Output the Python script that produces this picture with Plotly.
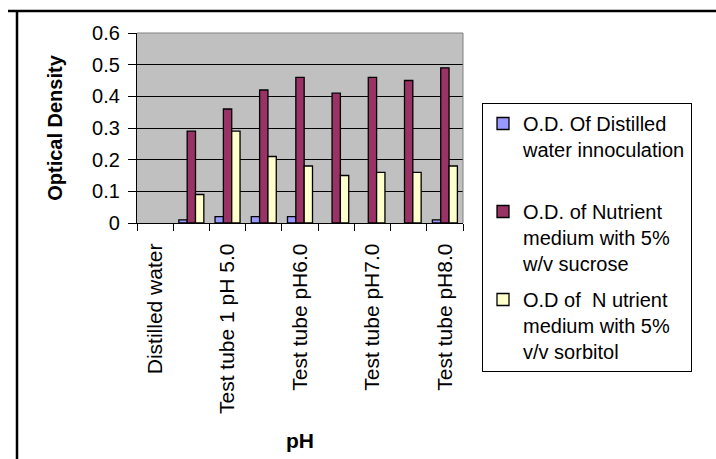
import plotly.graph_objects as go

# Categories along the x axis (only every second one carries a printed label)
categories = [
    "Distilled water",
    "Test tube pH4.0",
    "Test tube 1 pH 5.0",
    "Test tube 2 pH 5.0",
    "Test tube pH6.0",
    "Test tube 2 pH6.0",
    "Test tube pH7.0",
    "Test tube 2 pH7.0",
    "Test tube pH8.0",
]

# Optical density readings per series
od_distilled = [0.0, 0.01, 0.02, 0.02, 0.02, 0.0, 0.0, 0.0, 0.01]
od_sucrose = [0.0, 0.29, 0.36, 0.42, 0.46, 0.41, 0.46, 0.45, 0.49]
od_sorbitol = [0.0, 0.09, 0.29, 0.21, 0.18, 0.15, 0.16, 0.16, 0.18]

series_names = [
    "O.D. Of Distilled<br>water innoculation<br> ",
    "O.D. of Nutrient<br>medium with 5%<br>w/v sucrose",
    "O.D of  N utrient<br>medium with 5%<br>v/v sorbitol",
]
series_values = [od_distilled, od_sucrose, od_sorbitol]
series_colors = ["#9999FF", "#993366", "#FFFFCC"]

y_ticks = [0, 0.1, 0.2, 0.3, 0.4, 0.5, 0.6]

FONT = "Liberation Sans, Arial, Helvetica, sans-serif"
W, H = 716, 459
ML, MR, MT, MB = 137, 253, 33, 236

x_pos = list(range(len(categories)))

fig = go.Figure()
for name, vals, col in zip(series_names, series_values, series_colors):
    # zero readings leave the slot empty (no flat outlined bar on the axis)
    shown = [v if v > 0 else None for v in vals]
    fig.add_trace(go.Bar(
        x=x_pos, y=shown, name=name, legendgroup=name,
        marker=dict(color=col, line=dict(color="#000000", width=1.3)),
    ))

# helpers converting pixel positions of the page frame to paper coordinates
pw, ph = W - ML - MR, H - MT - MB
def px(xp):
    return (xp - ML) / pw
def py(yp):
    return (H - MB - yp) / ph

shapes = [
    # plot-area frame (top and right edges)
    dict(type="line", xref="paper", yref="paper", x0=0, x1=1, y0=1, y1=1,
         line=dict(color="#808080", width=1)),
    dict(type="line", xref="paper", yref="paper", x0=1, x1=1, y0=0, y1=1,
         line=dict(color="#808080", width=1)),
    # page frame lines
    dict(type="line", xref="paper", yref="paper", x0=px(8), x1=px(716), y0=py(11), y1=py(11),
         line=dict(color="#000000", width=2.5)),
    dict(type="line", xref="paper", yref="paper", x0=px(17), x1=px(17), y0=py(11), y1=py(459),
         line=dict(color="#000000", width=2.5)),
]

fig.update_layout(
    width=W, height=H,
    margin=dict(l=ML, r=MR, t=MT, b=MB, autoexpand=False),
    paper_bgcolor="#FFFFFF",
    plot_bgcolor="#C0C0C0",
    barmode="group", bargap=0.31, bargroupgap=0,
    font=dict(family=FONT, color="#000000"),
    shapes=shapes,
    showlegend=True,
    legend=dict(
        x=px(482), y=py(103), xanchor="left", yanchor="top",
        bordercolor="#000000", borderwidth=1, bgcolor="#FFFFFF",
        font=dict(family=FONT, size=20, color="#000000"),
        tracegroupgap=7, traceorder="grouped", itemwidth=30,
        valign="top", maxheight=400,
    ),
    xaxis=dict(
        range=[-0.5, len(categories) - 0.5],
        tickmode="array", tickvals=x_pos[::2], ticktext=categories[::2],
        tickangle=-90, ticks="", ticklabelstandoff=11,
        tickfont=dict(family=FONT, size=21),
        minor=dict(tickmode="array", tickvals=[i - 0.5 for i in range(len(categories) + 1)],
                   ticks="outside", ticklen=7, tickcolor="#000000", tickwidth=1, showgrid=False),
        showline=True, linecolor="#000000", linewidth=1.3,
        showgrid=False, zeroline=False, automargin=False,
        title=dict(text="<b>pH</b>", font=dict(family=FONT, size=21), standoff=20),
    ),
    yaxis=dict(
        range=[0, 0.6], tickmode="array", tickvals=y_ticks,
        ticktext=[f"{v:g}" for v in y_ticks],
        ticks="outside", ticklen=8, tickcolor="#000000", tickwidth=1,
        ticklabelstandoff=4,
        tickfont=dict(family=FONT, size=20),
        showline=True, linecolor="#000000", linewidth=1.3,
        showgrid=True, gridcolor="#000000", gridwidth=1,
        zeroline=False, automargin=False,
        title=dict(text="<b>Optical Density</b>", font=dict(family=FONT, size=20), standoff=24),
    ),
)

fig.write_html("out.html")
